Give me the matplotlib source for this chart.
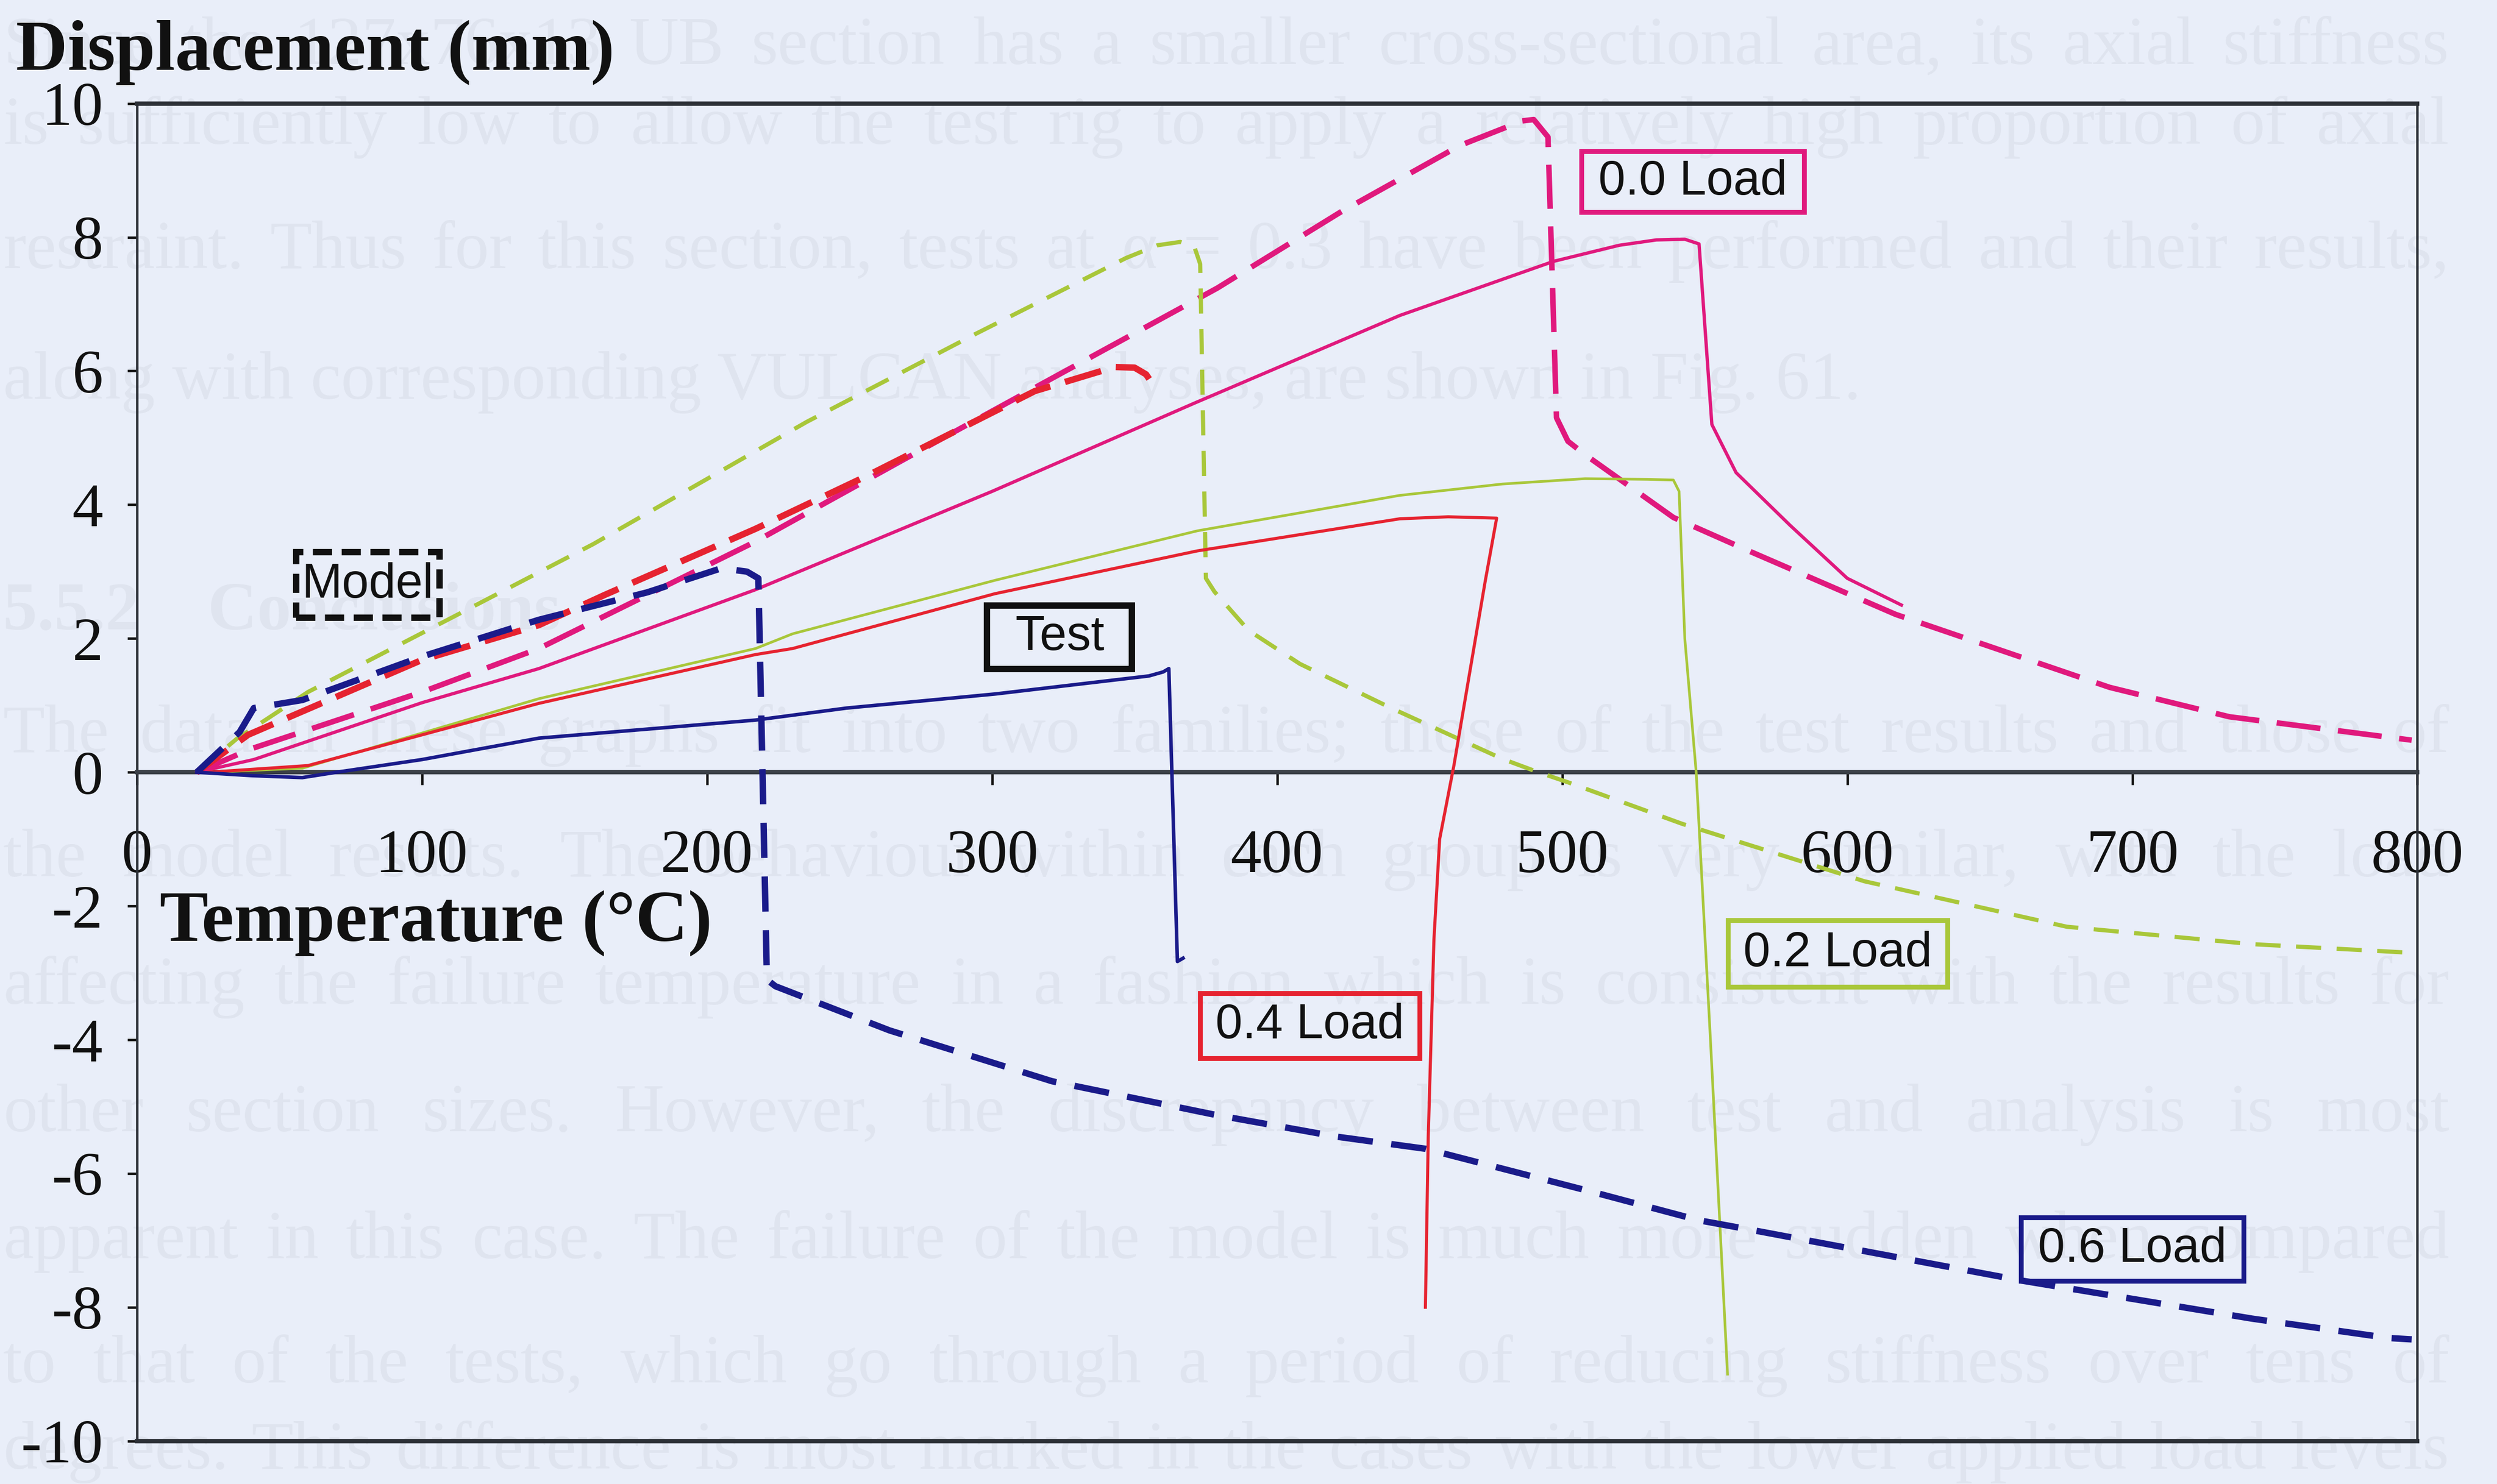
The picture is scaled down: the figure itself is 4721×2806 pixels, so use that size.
import matplotlib
matplotlib.use("Agg")
import matplotlib.pyplot as plt
from matplotlib.patches import Rectangle

# ---------------------------------------------------------------------------
# Displacement against temperature, model (dashed) and test (solid) curves
# for four load ratios.
# ---------------------------------------------------------------------------
temp_00_model = [21, 40, 100, 141, 217, 270, 324, 379, 422, 464, 486, 490, 495, 498, 502, 508,
                 539, 566, 617, 692, 734, 798]
disp_00_model = [0, 0.35, 1.2, 1.85, 3.45, 4.7, 5.96, 7.24, 8.37, 9.37, 9.74, 9.76, 9.5, 5.3, 4.95, 4.75,
                 3.81, 3.3, 2.36, 1.27, 0.83, 0.48]

temp_00_test = [21, 41, 100, 141, 217, 300, 371, 443, 497, 520, 533, 543, 548, 552.5, 561, 580, 600, 619]
disp_00_test = [0, 0.19, 1.04, 1.55, 2.73, 4.2, 5.52, 6.83, 7.64, 7.88, 7.96, 7.97, 7.9, 5.2, 4.48, 3.69, 2.9, 2.5]

temp_02_model = [21, 35, 60, 109, 160, 235, 294, 347, 358, 366, 371, 373, 375, 378, 390, 408, 440,
                 479, 491, 502, 542, 606, 677, 742, 798]
disp_02_model = [0, 0.5, 1.2, 2.28, 3.41, 5.24, 6.55, 7.69, 7.88, 7.93, 7.85, 7.6, 2.9, 2.7, 2.12, 1.62, 0.96,
                 0.2, 0.01, -0.15, -0.77, -1.63, -2.31, -2.57, -2.7]

temp_02_test = [25, 58, 141, 217, 230, 301, 372, 443, 479, 508, 530, 539, 541, 543, 547, 552, 558]
disp_02_test = [0, 0.06, 1.1, 1.85, 2.07, 2.87, 3.61, 4.14, 4.31, 4.39, 4.38, 4.37, 4.2, 2.0, 0.0, -4.0, -9.0]

temp_04_model = [21, 39, 100, 141, 164, 217, 256, 315, 343, 350, 354, 358]
disp_04_model = [0, 0.56, 1.68, 2.2, 2.65, 3.64, 4.43, 5.7, 6.06, 6.05, 5.95, 5.7]

temp_04_test = [25, 60, 141, 217, 230, 301, 372, 443, 460, 477, 473, 462, 457, 455, 453, 452]
disp_04_test = [0, 0.1, 1.03, 1.76, 1.85, 2.67, 3.31, 3.79, 3.82, 3.8, 2.86, 0.1, -1.0, -2.5, -5.45, -8.0]

temp_06_model = [21, 36, 41, 58, 100, 141, 179, 205, 214, 218, 221, 224, 264, 321, 378, 421, 452,
                 511, 548, 566, 661, 742, 790, 798]
disp_06_model = [0, 0.6, 0.96, 1.08, 1.73, 2.28, 2.69, 3.05, 3.0, 2.9, -3.1, -3.2, -3.86, -4.62, -5.12,
                 -5.45, -5.63, -6.28, -6.7, -6.84, -7.6, -8.17, -8.46, -8.48]

temp_06_test = [21, 40, 58, 70, 100, 141, 217, 249, 301, 355, 360, 362, 365, 367]
disp_06_test = [0, -0.05, -0.08, 0, 0.19, 0.51, 0.78, 0.96, 1.17, 1.44, 1.5, 1.55, -2.83, -2.78]

x_ticks = [0, 100, 200, 300, 400, 500, 600, 700, 800]
y_ticks = [-10, -8, -6, -4, -2, 0, 2, 4, 6, 8, 10]

# Page text printed on the sheet behind the figure
page_lines = [
    ("Since the 127x76x13 UB section has a smaller cross-sectional area, its axial stiffness", True, False),
    ("is sufficiently low to allow the test rig to apply a relatively high proportion of axial", True, False),
    ("restraint.  Thus for this section, tests at \u03b1 = 0.3 have been performed and their results,", True, False),
    ("along with corresponding VULCAN analyses, are shown in Fig. 61.", False, False),
    ("5.5.2    Conclusions", False, True),
    ("The data in these graphs fit into two families; those of the test results and those of", True, False),
    ("the model results.  The behaviour within each group is very similar, with the load", True, False),
    ("affecting the failure temperature in a fashion which is consistent with the results for", True, False),
    ("other section sizes.  However, the discrepancy between test and analysis is most", True, False),
    ("apparent in this case.  The failure of the model is much more sudden when compared", True, False),
    ("to that of the tests, which go through a period of reducing stiffness over tens of", True, False),
    ("degrees.  This difference is most marked in the cases with the lower applied load levels", True, False),
]
page_line_y = [30, 80, 158, 240, 385, 462, 540, 620, 700, 780, 858, 912]

# ---------------------------------------------------------------------------
BG = "#e9eef9"
INK_FAINT = "#dfe4ef"
MAGENTA = "#e0197d"
GREEN = "#a9c73a"
RED = "#e62330"
NAVY = "#1a1b8a"
FRAME = "#2c3036"
SERIF = ["Liberation Serif", "DejaVu Serif"]
SANS = ["Liberation Sans", "DejaVu Sans"]

W, H, DPI = 4721, 2806, 300
REF_W, REF_H = 1568.0, 932.0

fig = plt.figure(figsize=(W / DPI, H / DPI), dpi=DPI, facecolor=BG)

# background page text (fully justified lines)
renderer = fig.canvas.get_renderer()
x_left, x_right = 2 / REF_W, 1538 / REF_W
for (line, justify, bold), ypx in zip(page_lines, page_line_y):
    y = 1 - ypx / REF_H
    kw = dict(fontsize=31, family=SERIF, color=INK_FAINT, va="center", ha="left",
              zorder=-5, fontweight="bold" if bold else "normal")
    if not justify:
        fig.text(x_left, y, line, **kw)
        continue
    words = line.split()
    texts = [fig.text(0, y, w, **kw) for w in words]
    widths = [t.get_window_extent(renderer).width / fig.bbox.width for t in texts]
    gap = (x_right - x_left - sum(widths)) / (len(words) - 1)
    x = x_left
    for t, w in zip(texts, widths):
        t.set_x(x)
        x += w + gap

ax = fig.add_axes([86 / REF_W, 1 - 905 / REF_H, (1518 - 86) / REF_W, (905 - 65) / REF_H])
ax.set_facecolor("none")
ax.set_xlim(0, 800)
ax.set_ylim(-10, 10)

# frame: bottom spine sits on the zero line, frame bottom drawn separately
for side in ("left", "right"):
    ax.spines[side].set_linewidth(1.1)
    ax.spines[side].set_color(FRAME)
ax.spines["top"].set_linewidth(2.0)
ax.spines["top"].set_color(FRAME)
ax.spines["bottom"].set_position(("data", 0))
ax.spines["bottom"].set_linewidth(2.0)
ax.spines["bottom"].set_color("#3b4047")
ax.plot([0, 1], [0, 0], transform=ax.transAxes, color=FRAME, lw=2.0, clip_on=False, zorder=3)

ax.set_xticks(x_ticks)
ax.set_xticklabels([str(v) for v in x_ticks])
ax.set_yticks(y_ticks)
ax.set_yticklabels([str(v) for v in y_ticks])
ax.tick_params(axis="x", direction="out", length=5.8, width=1.1, pad=20, colors="#111111",
               labelsize=28)
ax.tick_params(axis="y", direction="out", length=4.3, width=1.1, pad=11, colors="#111111",
               labelsize=28)
for lab in ax.get_xticklabels() + ax.get_yticklabels():
    lab.set_family(SERIF)

# curves
ax.plot(temp_00_model, disp_00_model, color=MAGENTA, lw=2.5, ls=(0, (8, 3.2)), zorder=4)
ax.plot(temp_00_test, disp_00_test, color=MAGENTA, lw=1.5, zorder=4)
ax.plot(temp_02_model, disp_02_model, color=GREEN, lw=1.9, ls=(0, (6, 3.7)), zorder=4)
ax.plot(temp_02_test, disp_02_test, color=GREEN, lw=1.2, zorder=4)
ax.plot(temp_04_model, disp_04_model, color=RED, lw=2.9, ls=(0, (5.9, 2.4)), zorder=4)
ax.plot(temp_04_test, disp_04_test, color=RED, lw=1.4, zorder=4)
ax.plot(temp_06_model, disp_06_model, color=NAVY, lw=2.9, ls=(0, (5.5, 2.9)), zorder=4)
ax.plot(temp_06_test, disp_06_test, color=NAVY, lw=1.6, zorder=4)

# boxed labels (centre in data units, size in reference pixels)
px_per_deg = (1518 - 86) / 800.0
px_per_mm = (905 - 65) / 20.0


def boxed_label(x, y, text, edge, wpx, hpx, lw=2.2, ls="-"):
    w = wpx / px_per_deg
    h = hpx / px_per_mm
    ax.add_patch(Rectangle((x - w / 2, y - h / 2), w, h, fill=False, ec=edge, lw=lw, ls=ls,
                           zorder=6))
    ax.text(x, y, text, ha="center", va="center", fontsize=22, family=SANS, color="#111111",
            zorder=7)


boxed_label(545.8, 8.83, "0.0 Load", MAGENTA, 140, 38)
boxed_label(81.0, 2.80, "Model", "#111111", 90, 41, lw=2.9, ls=(0, (3, 1.5)))
boxed_label(323.7, 2.02, "Test", "#111111", 91, 40, lw=2.9)
boxed_label(596.6, -2.71, "0.2 Load", GREEN, 138, 42)
boxed_label(411.5, -3.79, "0.4 Load", RED, 138, 41)
boxed_label(700.0, -7.13, "0.6 Load", NAVY, 140, 40)

# axis titles
ax.text(8, -2.26, "Temperature (\u00b0C)", ha="left", va="center", fontsize=33,
        fontweight="bold", family=SERIF, color="#111111", zorder=7)
fig.text(10 / REF_W, 1 - 33 / REF_H, "Displacement (mm)", ha="left", va="center",
         fontsize=32.5, fontweight="bold", family=SERIF, color="#111111")

fig.savefig("out.png", dpi=DPI, facecolor=BG)
